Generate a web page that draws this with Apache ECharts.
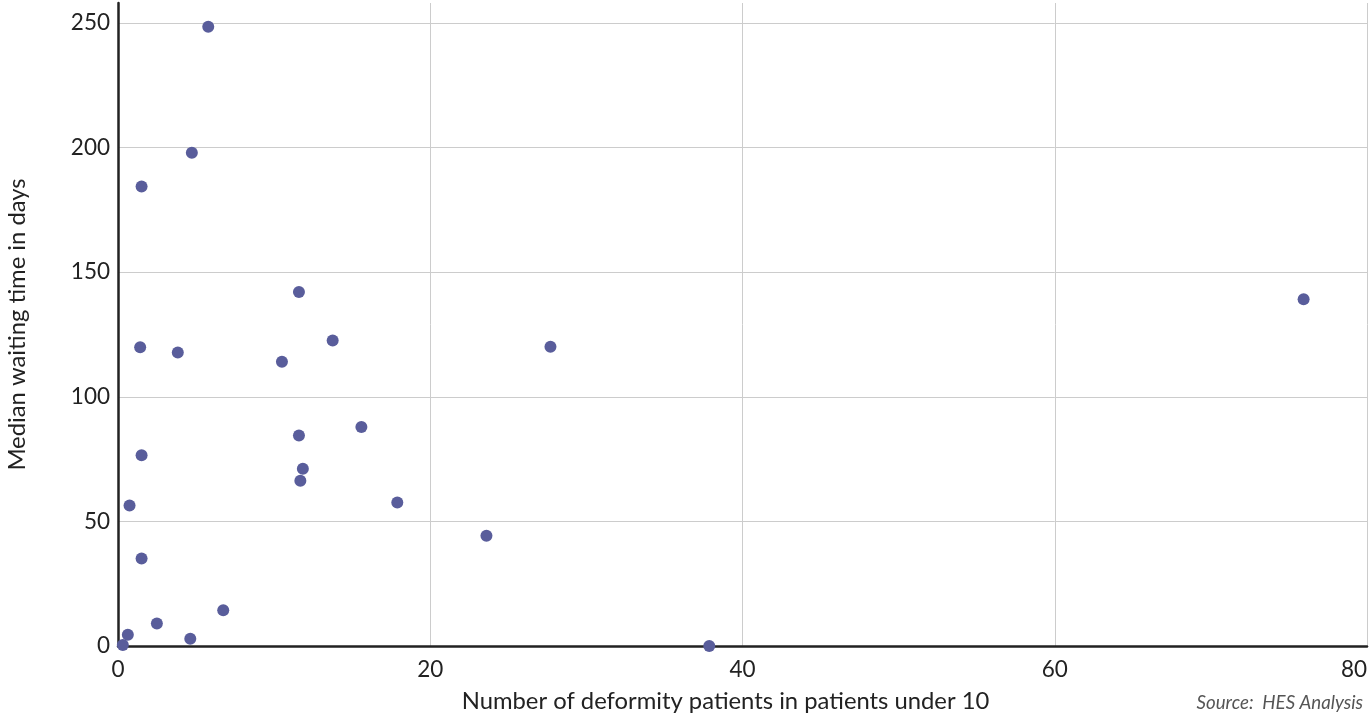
<!DOCTYPE html>
<html>
<head>
<meta charset="utf-8">
<script src="https://cdn.jsdelivr.net/npm/echarts@6/dist/echarts.min.js"></script>
<style>
html,body{margin:0;padding:0;background:#fff;}
#chart{width:1370px;height:720px;}
</style>
</head>
<body>
<div id="chart"></div>
<script>
// Number of deformity patients in patients under 10
const patients = [5.78, 4.73, 1.51, 11.59, 1.42, 3.83, 13.75, 10.50, 15.59, 11.59, 1.51, 11.84, 11.68, 0.74, 17.89, 1.51, 6.74, 2.49, 0.63, 4.63, 0.31, 27.70, 23.60, 37.87, 75.94];
// Median waiting time in days
const waitDays = [248.5, 197.9, 184.4, 142.0, 119.9, 117.8, 122.6, 114.1, 87.9, 84.5, 76.5, 71.1, 66.3, 56.4, 57.6, 35.1, 14.3, 9.0, 4.5, 2.9, 0.4, 120.1, 44.2, 0, 139.1];
const xTicks = [0, 20, 40, 60, 80];
const yTicks = [0, 50, 100, 150, 200, 250];

const points = patients.map((x, i) => [x, waitDays[i]]);
const font = 'Lato, "Open Sans", sans-serif';

const chart = echarts.init(document.getElementById('chart'), null, {renderer: 'canvas'});
chart.setOption({
  animation: false,
  backgroundColor: '#ffffff',
  textStyle: {fontFamily: font},
  title: {
    text: 'Source:  HES Analysis',
    right: 2,
    bottom: 3,
    textStyle: {fontFamily: font, fontStyle: 'italic', fontWeight: 'normal', fontSize: 18.7, color: '#555555'}
  },
  grid: {left: 118, right: 3, top: 3, bottom: 74, containLabel: false, outerBoundsMode: 'none'},
  xAxis: {
    type: 'value',
    min: xTicks[0],
    max: xTicks[xTicks.length - 1],
    interval: 20,
    name: 'Number of deformity patients in patients under 10',
    nameLocation: 'middle',
    nameGap: 43,
    nameTextStyle: {fontFamily: font, fontSize: 23.8, color: '#222222', padding: [0, 34, 0, 0]},
    axisLine: {show: true, onZero: false, lineStyle: {color: '#222222', width: 2.5}},
    axisTick: {show: false},
    axisLabel: {fontFamily: font, fontSize: 22.5, color: '#222222', margin: 12, alignMaxLabel: 'right'},
    splitLine: {show: true, lineStyle: {color: '#cccccc', width: 1}}
  },
  yAxis: {
    type: 'value',
    min: yTicks[0],
    max: 258,
    interval: 50,
    name: 'Median waiting time in days',
    nameLocation: 'middle',
    nameGap: 89,
    nameTextStyle: {fontFamily: font, fontSize: 23.8, color: '#222222'},
    axisLine: {show: true, onZero: false, lineStyle: {color: '#222222', width: 2.5}},
    axisTick: {show: false},
    axisLabel: {fontFamily: font, fontSize: 22.5, color: '#222222', margin: 8, showMaxLabel: false},
    splitLine: {show: true, showMaxLine: false, lineStyle: {color: '#cccccc', width: 1}}
  },
  series: [{
    type: 'scatter',
    data: points,
    symbol: 'circle',
    symbolSize: 12,
    itemStyle: {color: '#595d9b', opacity: 1},
    clip: false
  }]
});
</script>
</body>
</html>
